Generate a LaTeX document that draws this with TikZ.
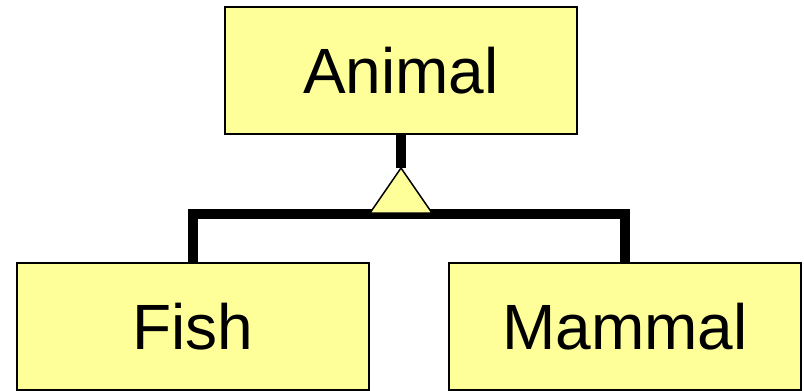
\documentclass[tikz,border=0pt]{standalone}
\usepackage{fontspec}
\setmainfont{Liberation Sans}
\definecolor{classfill}{HTML}{FFFF99}
\begin{document}
\begin{tikzpicture}[x=1pt,y=-1pt,
  classbox/.style={draw=black,line width=2.5pt,fill=classfill,
    minimum width=352pt,minimum height=127pt,inner sep=0pt,
    font=\fontsize{64}{77}\selectfont},
  link/.style={line width=10pt,line join=miter,line cap=butt},
  gentri/.style={draw=black,line width=1.5pt,fill=classfill,line join=miter}]
  \useasboundingbox (0,0) rectangle (804,391);
  % classes
  \node[classbox] (animal) at (401,70.5) {Animal};
  \node[classbox] (fish) at (193,326.5) {Fish};
  \node[classbox] (mammal) at (625,326.5) {Mammal};
  % generalization hub
  \coordinate (apex) at (401,168);
  \coordinate (bar) at (401,214);
  \coordinate (baseL) at (370,213);
  \coordinate (baseR) at (432,213);
  \draw[link] (animal.south) -- (apex);
  \draw[link] (fish.north) |- (bar) -| (mammal.north);
  \draw[gentri] (apex) -- (baseR) -- (baseL) -- cycle;
\end{tikzpicture}
\end{document}
